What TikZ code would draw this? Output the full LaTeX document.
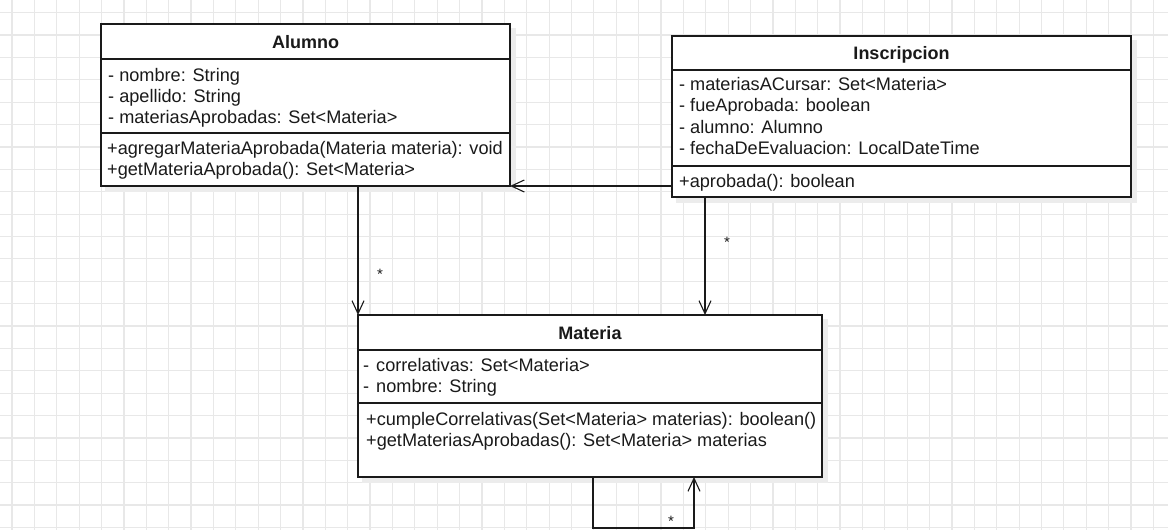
\documentclass[tikz,border=0pt]{standalone}
\usepackage{fontspec}
\setmainfont{Liberation Sans}
\usetikzlibrary{arrows.meta}
\definecolor{gridc}{HTML}{E8E8E8}
\definecolor{shad}{HTML}{ECECEC}
\definecolor{ink}{HTML}{1A1A1A}
\begin{document}
\begin{tikzpicture}[x=1pt,y=-1pt,
  box/.style={draw=ink, line width=1.3pt, fill=white, inner sep=0pt, outer sep=0pt, anchor=north west},
  sep/.style={draw=ink, line width=1.3pt},
  title/.style={anchor=base, inner sep=0pt, font=\fontsize{18}{21}\selectfont\bfseries, text=ink},
  txt/.style={anchor=base west, inner sep=0pt, font=\fontsize{18.15}{21}\selectfont, text=ink},
  assoc/.style={draw=ink, line width=1.1pt, -{Straight Barb[length=13pt,width=12pt]}},
  mult/.style={inner sep=0pt, font=\fontsize{15}{15}\selectfont, text=ink}
]
\useasboundingbox (0,0) rectangle (1168,530);
\fill[white] (0,0) rectangle (1168,530);
\foreach \i in {0,...,51} \draw[gridc, line width=1.2pt] ({12+22.38*\i},0) -- ({12+22.38*\i},530);
\foreach \j in {0,...,23} \draw[gridc, line width=1.2pt] (0,{12.7+22.38*\j}) -- (1168,{12.7+22.38*\j});

% shadows
\fill[shad] (105,28) rectangle (516,192);
\fill[shad] (676,40) rectangle (1137,203);
\fill[shad] (362,319) rectangle (828,483);

% Alumno
\node[box, minimum width=409pt, minimum height=162pt] (alumno) at (101,24) {};
\draw[sep] ([yshift=-35pt]alumno.north west) -- ([yshift=-35pt]alumno.north east);
\draw[sep] ([yshift=-109pt]alumno.north west) -- ([yshift=-109pt]alumno.north east);
\node[title] (alumnoT) at (305.5,48) {Alumno};
\node[txt] (a1) at (108,81) {- nombre: String};
\node[txt] (a2) at (108,102) {- apellido: String};
\node[txt] (a3) at (108,123) {- materiasAprobadas: Set<Materia>};
\node[txt] (a4) at (107,154) {+agregarMateriaAprobada(Materia materia): void};
\node[txt] (a5) at (107,175) {+getMateriaAprobada(): Set<Materia>};

% Inscripcion
\node[box, minimum width=459pt, minimum height=161pt] (insc) at (672,36) {};
\draw[sep] ([yshift=-34pt]insc.north west) -- ([yshift=-34pt]insc.north east);
\draw[sep] ([yshift=-130pt]insc.north west) -- ([yshift=-130pt]insc.north east);
\node[title] (inscT) at (901.5,59) {Inscripcion};
\node[txt] (i1) at (679,90) {\makebox[11pt][l]{-}materiasACursar: Set<Materia>};
\node[txt] (i2) at (679,111) {\makebox[11pt][l]{-}fueAprobada: boolean};
\node[txt] (i3) at (679,133) {\makebox[11pt][l]{-}alumno: Alumno};
\node[txt] (i4) at (679,154) {\makebox[11pt][l]{-}fechaDeEvaluacion: LocalDateTime};
\node[txt] (i5) at (679,187) {+aprobada(): boolean};

% Materia
\node[box, minimum width=464pt, minimum height=162pt] (materia) at (358,315) {};
\draw[sep] ([yshift=-35pt]materia.north west) -- ([yshift=-35pt]materia.north east);
\draw[sep] ([yshift=-88pt]materia.north west) -- ([yshift=-88pt]materia.north east);
\node[title] (materiaT) at (590,339.5) {Materia};
\node[txt] (m1) at (363,371.5) {\makebox[13pt][l]{-}correlativas: Set<Materia>};
\node[txt] (m2) at (363,392.5) {\makebox[13pt][l]{-}nombre: String};
\node[txt] (m3) at (366,425) {+cumpleCorrelativas(Set<Materia> materias): boolean()};
\node[txt] (m4) at (366,446) {+getMateriasAprobadas(): Set<Materia> materias};

% connectors
\draw[assoc] ([xshift=257pt]alumno.south west) -- (materia.north west);
\draw[assoc] ([yshift=11pt]insc.south west) -- (alumno.south east);
\draw[assoc] ([xshift=33pt]insc.south west) -- ([xshift=347pt]materia.north west);
\draw[assoc] ([xshift=235pt]materia.south west) -- ++(0,51) -| ([xshift=336pt]materia.south west);

% multiplicities
\node[mult] (s1) at (380,274) {*};
\node[mult] (s2) at (727,242) {*};
\node[mult] (s3) at (671,521) {*};
\end{tikzpicture}
\end{document}
